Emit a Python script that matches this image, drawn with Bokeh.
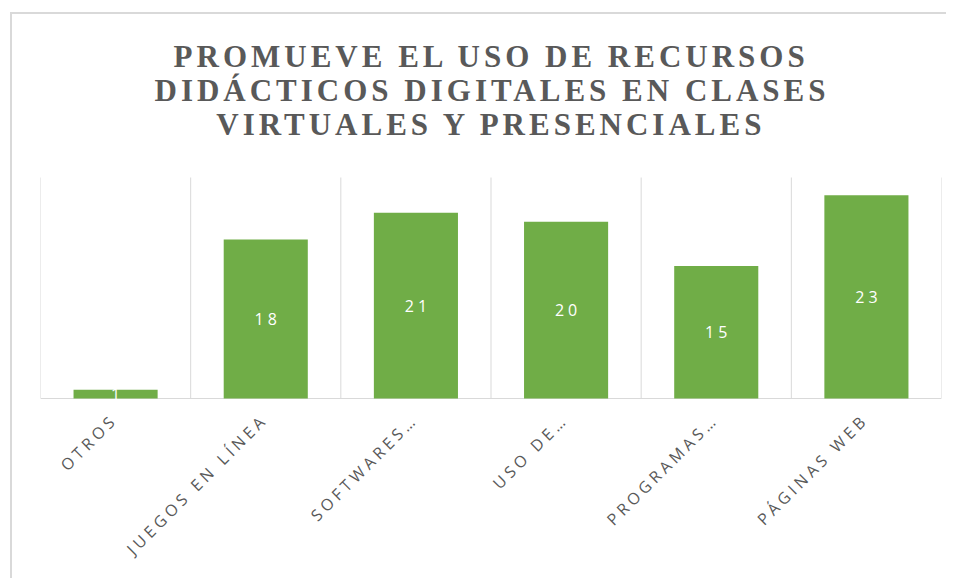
import numpy as np
from bokeh.plotting import figure
from bokeh.models import ColumnDataSource, LabelSet, Label, Range1d
from bokeh.core.properties import value
from bokeh.embed import file_html
from bokeh.resources import INLINE

categories = ["OTROS", "JUEGOS EN LÍNEA", "SOFTWARES…", "USO DE…", "PROGRAMAS…", "PÁGINAS WEB"]
values = [1, 18, 21, 20, 15, 23]
title_lines = ["PROMUEVE EL USO DE RECURSOS",
               "DIDÁCTICOS DIGITALES EN CLASES",
               "VIRTUALES Y PRESENCIALES"]
Y_MAX = 25

GRAY = "#595959"
GRID = "#D9D9D9"
GREEN = "#70AD47"
LS = 4          # letter spacing (px) of the reference's spaced lettering
C45 = np.cos(np.pi / 4)

# layout in pixels
PLOT_H = 221            # height of the bar area
TOP_PX = 163            # space above the bar area (title)
BOT_PX = 182            # space below the bar area (category labels)
PPU = PLOT_H / Y_MAX

n = len(categories)
xs = [i + 0.5 for i in range(n)]
labs = [str(v) for v in values]
src = ColumnDataSource(dict(x=xs, top=values, mid=[v / 2 for v in values], lab=labs,
                            vx=[-(len(s) - 1) * LS / 2 for s in labs]))
cat_src = ColumnDataSource(dict(
    x=xs, name=categories,
    lx=[-4 - (len(c) - 1) * LS * C45 for c in categories],
    ly=[-(21 + (len(c) - 1) * LS * C45) for c in categories]))

p = figure(width=936, height=TOP_PX + PLOT_H + BOT_PX,
           x_range=Range1d(0, n), y_range=Range1d(-BOT_PX / PPU, Y_MAX + TOP_PX / PPU),
           output_backend="svg", toolbar_location=None,
           min_border_left=28, min_border_right=7, min_border_bottom=0, min_border_top=0)
p.xaxis.visible = False
p.yaxis.visible = False
p.xgrid.visible = False
p.ygrid.visible = False
p.outline_line_color = None
p.background_fill_color = "white"
p.border_fill_color = "white"

# category separators (Excel category gridlines) and baseline
bounds = list(range(n + 1))
p.segment(x0=bounds, y0=[0] * len(bounds), x1=bounds, y1=[Y_MAX] * len(bounds),
          line_color=GRID, line_width=1)
p.segment(x0=[0], y0=[0], x1=[n], y1=[0], line_color=GRID, line_width=1)

p.vbar(x="x", top="top", width=0.56, source=src, fill_color=GREEN, line_color=None)
p.add_layout(LabelSet(x="x", y="mid", text="lab", source=src, text_color="white",
                      text_font=value("Open Sans"), text_font_size="16px", x_offset="vx",
                      text_align="center", text_baseline="middle"))
p.add_layout(LabelSet(x="x", y=0, text="name", source=cat_src, text_color=GRAY,
                      text_font=value("Open Sans"), text_font_size="16px",
                      x_offset="lx", y_offset="ly", angle=np.pi / 4,
                      text_align="right", text_baseline="middle"))

for line, up in zip(title_lines, [121, 87, 53]):
    p.add_layout(Label(x=n / 2, y=Y_MAX, text=line, x_offset=-1 - (len(line) - 1) * LS / 2,
                       y_offset=up, text_align="center", text_baseline="alphabetic",
                       text_font="Liberation Serif", text_font_style="bold",
                       text_font_size="31px", text_color=GRAY))

p.margin = (12, 0, 0, 10)
p.styles = {"border-top": "2px solid #D9D9D9", "border-left": "2px solid #D9D9D9",
            "letter-spacing": f"{LS}px"}

open("out.html", "w").write(file_html(p, INLINE))
